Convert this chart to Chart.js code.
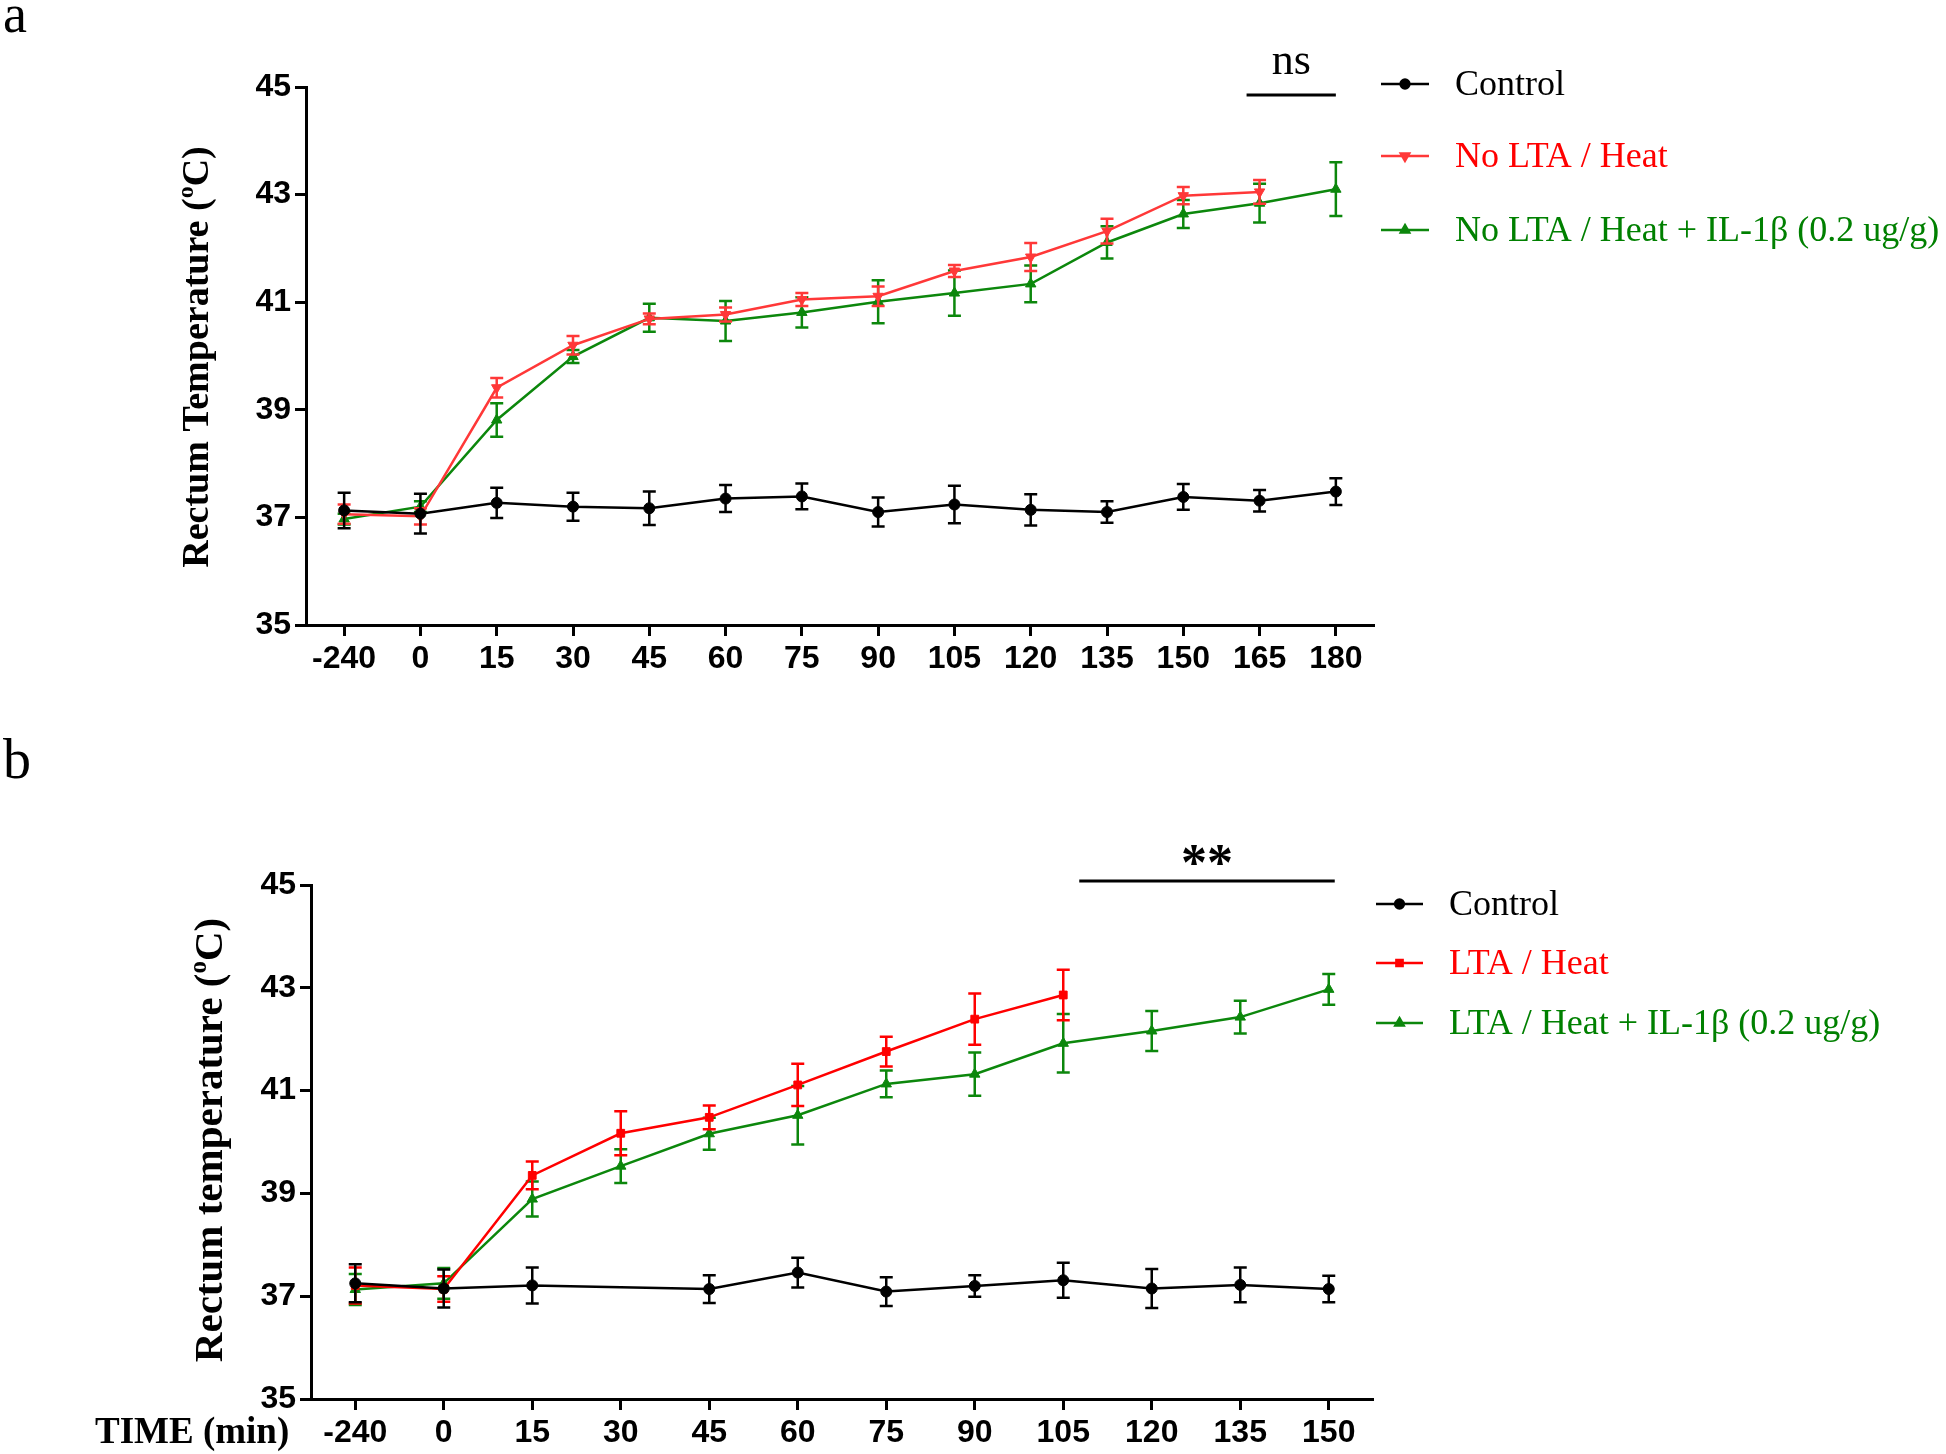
<!DOCTYPE html>
<html>
<head>
<meta charset="utf-8">
<title>Rectum temperature</title>
<script src="https://cdn.jsdelivr.net/npm/chart.js@4.4.1/dist/chart.umd.min.js"></script>
<style>
    html, body { margin: 0; padding: 0; background: #fff; }
    .panel { position: absolute; left: 0; width: 1946px; }
    #panelA { top: 0; height: 720px; }
    #panelB { top: 720px; height: 734px; }
</style>
</head>
<body>
<div id="panelA" class="panel"><canvas id="chartA" width="1946" height="720"></canvas></div>
<div id="panelB" class="panel"><canvas id="chartB" width="1946" height="734"></canvas></div>
<script>
// ============================================================================
// Data (mean and error per time point)
// ============================================================================

// Panel a
const timeA = ['-240', '0', '15', '30', '45', '60', '75', '90', '105', '120', '135', '150', '165', '180'];
const controlA    = [37.13, 37.07, 37.27, 37.20, 37.17, 37.35, 37.39, 37.10, 37.24, 37.14, 37.10, 37.38, 37.31, 37.48];
const controlAErr = [0.33, 0.37, 0.28, 0.26, 0.31, 0.25, 0.24, 0.27, 0.35, 0.29, 0.20, 0.24, 0.20, 0.25];
const noLtaHeat    = [37.06, 37.02, 39.41, 40.20, 40.69, 40.77, 41.05, 41.11, 41.58, 41.84, 42.32, 42.98, 43.05, null];
const noLtaHeatErr = [0.18, 0.15, 0.18, 0.17, 0.10, 0.13, 0.12, 0.18, 0.11, 0.26, 0.23, 0.16, 0.22, null];
const noLtaIl1b    = [36.97, 37.20, 38.81, 39.99, 40.71, 40.65, 40.81, 41.01, 41.17, 41.34, 42.11, 42.64, 42.84, 43.10];
const noLtaIl1bErr = [0.10, 0.10, 0.31, 0.12, 0.26, 0.37, 0.28, 0.40, 0.42, 0.34, 0.30, 0.26, 0.36, 0.50];

// Panel b
const timeB = ['-240', '0', '15', '30', '45', '60', '75', '90', '105', '120', '135', '150'];
const controlB    = [37.25, 37.15, 37.21, null, 37.14, 37.46, 37.09, 37.20, 37.31, 37.15, 37.22, 37.14];
const controlBErr = [0.37, 0.37, 0.35, null, 0.27, 0.29, 0.28, 0.21, 0.34, 0.38, 0.34, 0.26];
const ltaHeat    = [37.21, 37.14, 39.35, 40.17, 40.48, 41.11, 41.76, 42.39, 42.86, null, null, null];
const ltaHeatErr = [0.35, 0.25, 0.27, 0.43, 0.23, 0.41, 0.29, 0.50, 0.49, null, null, null];
const ltaIl1b    = [37.13, 37.25, 38.89, 39.53, 40.16, 40.52, 41.13, 41.32, 41.92, 42.16, 42.43, 42.97];
const ltaIl1bErr = [0.30, 0.30, 0.34, 0.33, 0.31, 0.57, 0.26, 0.42, 0.57, 0.39, 0.32, 0.30];

const yTicks = [35, 37, 39, 41, 43, 45];

// ============================================================================
// Styling
// ============================================================================

const SANS = '"Liberation Sans", Arial, sans-serif';
const SERIF = '"Liberation Serif", "Times New Roman", serif';
const BLACK = '#000000';
const RED_A = '#ff3838';
const RED_B = '#ff0000';
const GREEN = '#0c870c';

Chart.defaults.font.family = SANS;
Chart.defaults.color = BLACK;

// ============================================================================
// Plugins
// ============================================================================

// vertical error bars with caps, drawn right after each dataset
const errorBarPlugin = {
    id: 'errorBars',
    afterDatasetDraw(chart, args) {
        const ds = chart.data.datasets[args.index];
        if (!ds.errors) return;
        const yScale = chart.scales.y;
        const ctx = chart.ctx;
        ctx.save();
        ctx.strokeStyle = ds.borderColor;
        ctx.lineWidth = 2.5;
        ds.data.forEach((v, i) => {
            const e = ds.errors[i];
            if (v == null || e == null) return;
            const px = args.meta.data[i].x;
            const top = yScale.getPixelForValue(v + e);
            const bot = yScale.getPixelForValue(v - e);
            ctx.beginPath();
            ctx.moveTo(px, top);
            ctx.lineTo(px, bot);
            ctx.moveTo(px - 6.5, top);
            ctx.lineTo(px + 6.5, top);
            ctx.moveTo(px - 6.5, bot);
            ctx.lineTo(px + 6.5, bot);
            ctx.stroke();
        });
        ctx.restore();
    }
};

// panel letter, axis title with superscript, significance bar, legend
function makeDecor(cfg) {
    return {
        id: 'figureDecor',
        afterDraw(chart) {
            const ctx = chart.ctx;
            const xScale = chart.scales.x;
            ctx.save();
            ctx.fillStyle = BLACK;
            ctx.textBaseline = 'alphabetic';

            // panel letter
            ctx.font = cfg.letterFont;
            ctx.textAlign = 'left';
            ctx.fillText(cfg.letter, cfg.letterPos[0], cfg.letterPos[1]);

            // rotated y title: "Rectum ... (" + superscript o + "C)"
            const big = `bold ${cfg.titleSize}px ${SERIF}`;
            const small = `bold ${Math.round(cfg.titleSize * 0.62)}px ${SERIF}`;
            const parts = [
                { text: cfg.title, font: big, dy: 0 },
                { text: 'o', font: small, dy: -cfg.titleSize * 0.4 },
                { text: 'C)', font: big, dy: 0 }
            ];
            let total = 0;
            parts.forEach(p => { ctx.font = p.font; p.w = ctx.measureText(p.text).width; total += p.w; });
            ctx.save();
            ctx.translate(cfg.titleX, cfg.titleY);
            ctx.rotate(-Math.PI / 2);
            let cur = -total / 2;
            parts.forEach(p => {
                ctx.font = p.font;
                ctx.fillText(p.text, cur, p.dy);
                cur += p.w;
            });
            ctx.restore();

            // x axis caption (panel b only)
            if (cfg.xCaption) {
                ctx.font = `bold 37px ${SERIF}`;
                ctx.fillText(cfg.xCaption, cfg.xCaptionPos[0], cfg.xCaptionPos[1]);
            }

            // significance bar
            const sig = cfg.sig;
            const sx0 = xScale.getPixelForValue(xScale.getLabels().indexOf(sig.from)) + sig.dx0;
            const sx1 = xScale.getPixelForValue(xScale.getLabels().indexOf(sig.to)) + sig.dx1;
            ctx.strokeStyle = BLACK;
            ctx.lineWidth = 3;
            ctx.beginPath();
            ctx.moveTo(sx0, sig.y);
            ctx.lineTo(sx1, sig.y);
            ctx.stroke();
            ctx.font = sig.font;
            ctx.textAlign = 'center';
            ctx.fillText(sig.text, (sx0 + sx1) / 2, sig.textY);

            // legend
            const lg = cfg.legend;
            ctx.textAlign = 'left';
            ctx.textBaseline = 'middle';
            chart.data.datasets.forEach((ds, i) => {
                const y = lg.ys[i];
                ctx.strokeStyle = ds.borderColor;
                ctx.fillStyle = ds.borderColor;
                ctx.lineWidth = 2.5;
                ctx.beginPath();
                ctx.moveTo(lg.x1, y);
                ctx.lineTo(lg.x2, y);
                ctx.stroke();
                Chart.helpers.drawPoint(ctx, {
                    pointStyle: ds.pointStyle,
                    rotation: ds.pointRotation || 0,
                    radius: ds.pointRadius * 0.8,
                    borderWidth: 1
                }, (lg.x1 + lg.x2) / 2, y);
                ctx.fillStyle = ds.textColor;
                ctx.font = `36px ${SERIF}`;
                ctx.fillText(ds.label, lg.textX, y + 2);
            });
            ctx.restore();
        }
    };
}

// ============================================================================
// Chart builder
// ============================================================================

function series(label, data, errors, color, textColor, pointStyle, radius, rotation) {
    return {
        label: label,
        data: data,
        errors: errors,
        borderColor: color,
        backgroundColor: color,
        textColor: textColor,
        pointBackgroundColor: color,
        pointBorderColor: color,
        pointStyle: pointStyle,
        pointRadius: radius,
        pointRotation: rotation || 0,
        pointBorderWidth: 1,
        borderWidth: 2.5,
        tension: 0,
        spanGaps: true
    };
}

function buildPanel(canvasId, labels, datasets, layout, decor) {
    const canvas = document.getElementById(canvasId);
    return new Chart(canvas, {
        type: 'line',
        data: { labels: labels, datasets: datasets },
        options: {
            responsive: false,
            animation: false,
            devicePixelRatio: 1,
            layout: {
                padding: {
                    left: 0,
                    right: canvas.width - layout.right,
                    top: layout.top,
                    bottom: canvas.height - layout.bottom - layout.xAxisHeight
                }
            },
            plugins: {
                legend: { display: false },
                tooltip: { enabled: false },
                title: { display: false }
            },
            scales: {
                x: {
                    type: 'category',
                    offset: true,
                    grid: {
                        offset: false,
                        drawOnChartArea: false,
                        drawTicks: true,
                        tickLength: 11,
                        tickWidth: 3,
                        tickColor: BLACK
                    },
                    border: { display: true, color: BLACK, width: 3 },
                    ticks: {
                        autoSkip: false,
                        maxRotation: 0,
                        padding: 4,
                        color: BLACK,
                        font: { family: SANS, size: 32, weight: 'bold' }
                    },
                    afterFit(scale) { scale.height = layout.xAxisHeight; }
                },
                y: {
                    min: 35,
                    max: 45,
                    afterBuildTicks(scale) { scale.ticks = yTicks.map(v => ({ value: v })); },
                    grid: {
                        drawOnChartArea: false,
                        drawTicks: true,
                        tickLength: 11,
                        tickWidth: 3,
                        tickColor: BLACK
                    },
                    border: { display: true, color: BLACK, width: 3 },
                    ticks: {
                        padding: 4,
                        color: BLACK,
                        font: { family: SANS, size: 32, weight: 'bold' }
                    },
                    afterFit(scale) { scale.width = layout.left; }
                }
            }
        },
        plugins: [errorBarPlugin, makeDecor(decor)]
    });
}

// ============================================================================
// Panels
// ============================================================================

buildPanel('chartA', timeA, [
    series('Control', controlA, controlAErr, BLACK, BLACK, 'circle', 5.5),
    series('No LTA / Heat', noLtaHeat, noLtaHeatErr, RED_A, RED_B, 'triangle', 6, 180),
    series('No LTA / Heat + IL-1\u03b2 (0.2 ug/g)', noLtaIl1b, noLtaIl1bErr, GREEN, '#008000', 'triangle', 6)
], { left: 306, right: 1374, top: 87, bottom: 625, xAxisHeight: 60 }, {
    letter: 'a',
    letterFont: `54px ${SERIF}`,
    letterPos: [3, 32],
    title: 'Rectum Temperature (',
    titleSize: 38,
    titleX: 208,
    titleY: 357,
    sig: { from: '165', to: '180', dx0: -13, dx1: 0, y: 95, text: 'ns', textY: 74, font: `44px ${SERIF}` },
    legend: { x1: 1381, x2: 1429, textX: 1455, ys: [84, 156, 230] }
});

buildPanel('chartB', timeB, [
    series('Control', controlB, controlBErr, BLACK, BLACK, 'circle', 5.5),
    series('LTA / Heat', ltaHeat, ltaHeatErr, RED_B, RED_B, 'rect', 5.5),
    series('LTA / Heat + IL-1\u03b2 (0.2 ug/g)', ltaIl1b, ltaIl1bErr, GREEN, '#008000', 'triangle', 6)
], { left: 311, right: 1373, top: 165, bottom: 679, xAxisHeight: 55 }, {
    letter: 'b',
    letterFont: `56px ${SERIF}`,
    letterPos: [3, 58],
    title: 'Rectum temperature (',
    titleSize: 41,
    titleX: 222,
    titleY: 420,
    xCaption: 'TIME (min)',
    xCaptionPos: [95, 723],
    sig: { from: '105', to: '150', dx0: 16, dx1: 6, y: 161, text: '**', textY: 160, font: `bold 52px ${SERIF}` },
    legend: { x1: 1376, x2: 1423, textX: 1449, ys: [184, 243, 303] }
});
</script>
</body>
</html>
